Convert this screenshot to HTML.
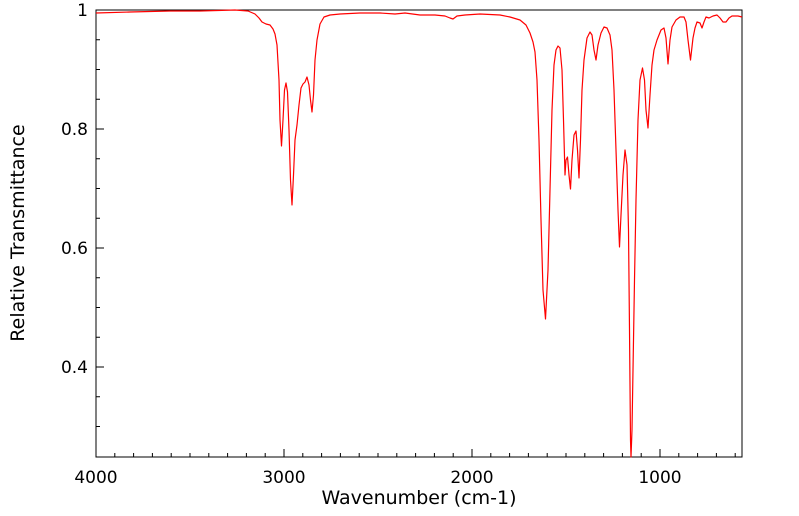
<!DOCTYPE html>
<html><head><meta charset="utf-8"><style>
html,body{margin:0;padding:0;background:#fff;}
svg{display:block;font-family:"DejaVu Sans",sans-serif;}
</style></head><body>
<svg width="799" height="516" viewBox="0 0 799 516" xmlns="http://www.w3.org/2000/svg">
<rect x="0" y="0" width="799" height="516" fill="#fff"/>
<rect x="96" y="10" width="646" height="447" fill="none" stroke="#000" stroke-width="1"/>
<g stroke="#000" stroke-width="1">
<path d="M96 457v-8M284 457v-8M472 457v-8M660 457v-8
M114.8 457v-4M133.6 457v-4M152.4 457v-4M171.2 457v-4M190 457v-4M208.8 457v-4M227.6 457v-4M246.4 457v-4M265.2 457v-4
M302.8 457v-4M321.6 457v-4M340.4 457v-4M359.2 457v-4M378 457v-4M396.8 457v-4M415.6 457v-4M434.4 457v-4M453.2 457v-4
M490.8 457v-4M509.6 457v-4M528.4 457v-4M547.2 457v-4M566 457v-4M584.8 457v-4M603.6 457v-4M622.4 457v-4M641.2 457v-4
M678.8 457v-4M697.6 457v-4M716.4 457v-4M735.2 457v-4"/>
<path d="M96 10h8M96 129h8M96 248h8M96 367h8
M96 39.75h4M96 69.5h4M96 99.25h4M96 158.75h4M96 188.5h4M96 218.25h4M96 277.75h4M96 307.5h4M96 337.25h4M96 396.75h4M96 426.5h4"/>
</g>
<g font-size="17" fill="#000">
<text x="96" y="483" text-anchor="middle">4000</text>
<text x="284" y="483" text-anchor="middle">3000</text>
<text x="472" y="483" text-anchor="middle">2000</text>
<text x="660" y="483" text-anchor="middle">1000</text>
<text x="88" y="16" text-anchor="end">1</text>
<text x="88" y="135" text-anchor="end">0.8</text>
<text x="88" y="254" text-anchor="end">0.6</text>
<text x="88" y="373" text-anchor="end">0.4</text>
</g>
<g font-size="19" fill="#000">
<text x="419" y="504" text-anchor="middle">Wavenumber (cm-1)</text>
<text transform="translate(24,233) rotate(-90)" text-anchor="middle">Relative Transmittance</text>
</g>
<polyline fill="none" stroke="#ff0000" stroke-width="1.2" stroke-linejoin="round" points="
96,13 130,12 170,11 200,11 235,10 248,11 255,14 259,18 262,22 266,24 270,25 273,29 275,34 277,45 279,80 280,120 281.5,146 283,120 284.5,90 286,83 287.5,92 289,130 290.5,180 292,205 293.5,175 295,140 297,125 299,105 301,88 303,84 305,82 307,77 309,85 310.5,100 312,112 313.5,95 315,60 317,40 320,24 324,17 330,15 340,14 360,13 380,13 395,14 405,13 420,15 435,15 445,16 450,18 453,19 457,16 465,15 480,14 500,15 510,17 520,20 526,25 530,33 533,42 535,52 537,80 539,140 541,220 543,290 545.5,319 548,270 550,190 552,110 554,65 556,50 558,46 560,48 562,70 563.5,120 565,175 566,160 567.5,157 569,175 570.5,189 572,160 574,135 576,131 577.5,150 579,178 580.5,140 582,90 584,60 587,38 590,32 592,35 594,50 596,60 598,45 601,33 604,27 607,28 610,35 612,50 614,90 616,150 618,210 619.5,247 621,215 623,175 625,150 627,165 628.5,230 629.5,330 630.5,440 631,457 632,430 633,370 634.5,280 636,200 638,120 640,80 642.5,68 644.5,80 646,110 648,128 650,95 652,65 654,50 657,40 661,30 664,28 666,38 668,64 670,40 672,27 676,20 680,17 684,17 686,22 688,40 690.5,60 693,38 695,28 697,22 700,23 702,28 704,22 706,17 709,18 713,16 717,15 720,18 723,22 726,22 729,18 732,16 738,16 742,17"/>
</svg>
</body></html>
